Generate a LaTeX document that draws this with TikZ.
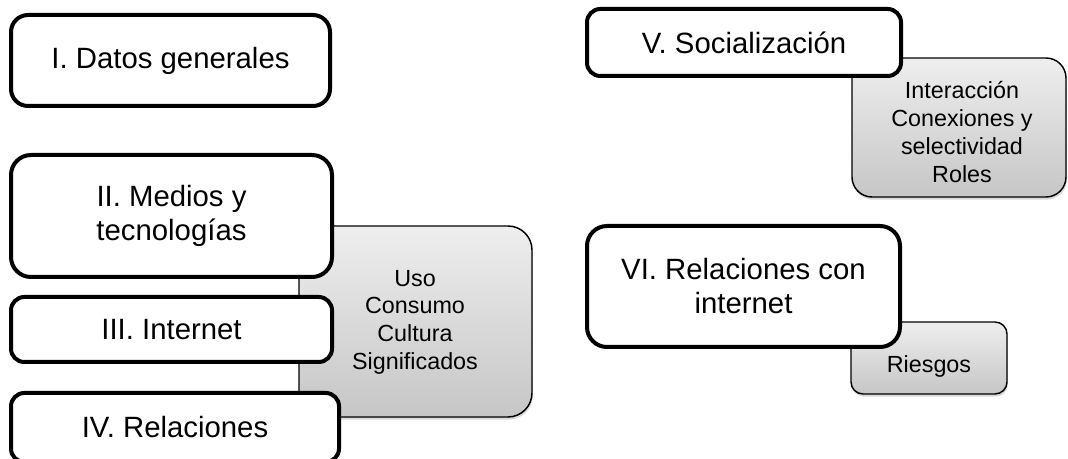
\documentclass[tikz,border=0pt]{standalone}
\usepackage{fontspec}
\setmainfont{Liberation Sans}
\usetikzlibrary{shadows}
\definecolor{grisarriba}{HTML}{EEEEEE}
\definecolor{grisabajo}{HTML}{C6C6C6}

\begin{document}
\begin{tikzpicture}[x=0.75pt, y=-0.75pt,
  seccion/.style={draw=black, line width=3pt, fill=white, align=center,
    font=\fontsize{22}{25.5}\selectfont, inner sep=0pt},
  detalle/.style={draw=black, line width=1.1pt, top color=grisarriba, bottom color=grisabajo,
    inner sep=0pt, drop shadow={shadow xshift=0.6pt, shadow yshift=-2pt, opacity=0.3}},
  textodet/.style={align=center, font=\fontsize{17.5}{20.8}\selectfont, inner sep=0pt}]
\useasboundingbox (0,0) rectangle (1068,459);
\clip (0,0) rectangle (1068,459);

% cajas grises detras
\node[detalle, minimum width=174.75pt, minimum height=143.25pt, rounded corners=18pt] (uso) at (415.5,321.5) {};
\node[detalle, minimum width=160.5pt, minimum height=104.25pt, rounded corners=15pt] (interaccion) at (959,127.5) {};
\node[detalle, minimum width=117pt, minimum height=54pt, rounded corners=9pt] (riesgos) at (929,358) {};
\node[textodet] (usotxt) at (415,322) {Uso\\Consumo\\Cultura\\Significados};
\node[textodet] (interacciontxt) at (962,132) {Interacción\\Conexiones y\\selectividad\\Roles};
\node[textodet] (riesgostxt) at (929,366) {Riesgos};

% secciones
\node[seccion, minimum width=239.25pt, minimum height=68.25pt, rounded corners=12.75pt] (datos) at (170.5,60.5) {I. Datos generales};
\node[seccion, minimum width=240.75pt, minimum height=91.5pt, rounded corners=15pt] (medios) at (171.5,216) {II. Medios y\\tecnologías};
\node[seccion, minimum width=240.75pt, minimum height=48.75pt, rounded corners=10pt] (internet) at (171.5,329.5) {III. Internet};
\node[seccion, minimum width=246pt, minimum height=51.75pt, rounded corners=10pt] (relaciones) at (175,427.5) {IV. Relaciones};
\node[seccion, minimum width=235.5pt, minimum height=50.25pt, rounded corners=10pt] (socializacion) at (744,42.5) {V. Socialización};
\node[seccion, minimum width=234.75pt, minimum height=90.75pt, rounded corners=15pt] (relinternet) at (743.5,286.5) {VI. Relaciones con\\internet};

\end{tikzpicture}
\end{document}
